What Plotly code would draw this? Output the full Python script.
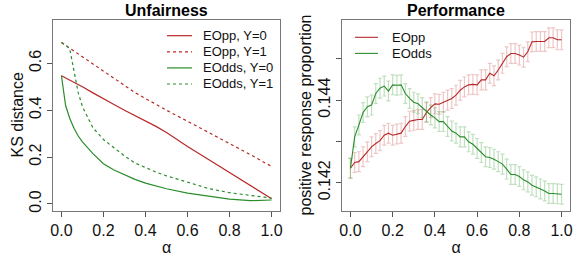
import plotly.graph_objects as go

# ---------------- data ----------------
alpha_ks = [0, 0.02, 0.04, 0.06, 0.08, 0.1, 0.15, 0.2, 0.25, 0.3, 0.35, 0.4,
            0.45, 0.5, 0.6, 0.7, 0.8, 0.9, 1.0]
eopp_y0 = [0.547, 0.538, 0.528, 0.519, 0.510, 0.500, 0.474, 0.448, 0.424, 0.400,
           0.378, 0.355, 0.331, 0.305, 0.245, 0.190, 0.133, 0.078, 0.022]
eopp_y1 = [0.689, 0.677, 0.665, 0.652, 0.640, 0.628, 0.597, 0.567, 0.536, 0.506,
           0.475, 0.449, 0.424, 0.400, 0.353, 0.306, 0.259, 0.210, 0.160]
eodds_y0 = [0.548, 0.420, 0.365, 0.323, 0.290, 0.265, 0.215, 0.172, 0.145, 0.125,
            0.105, 0.089, 0.076, 0.065, 0.046, 0.032, 0.021, 0.014, 0.017]
eodds_y1 = [0.689, 0.680, 0.660, 0.570, 0.475, 0.415, 0.325, 0.275, 0.238, 0.205,
            0.175, 0.155, 0.136, 0.120, 0.093, 0.066, 0.048, 0.035, 0.025]

alpha_perf = [0.00, 0.02, 0.04, 0.06, 0.08, 0.10, 0.12, 0.14, 0.16, 0.18,
              0.20, 0.22, 0.24, 0.26, 0.28, 0.30, 0.32, 0.34, 0.36, 0.38,
              0.40, 0.42, 0.44, 0.46, 0.48, 0.50, 0.52, 0.54, 0.56, 0.58,
              0.60, 0.62, 0.64, 0.66, 0.68, 0.70, 0.72, 0.74, 0.76, 0.78,
              0.80, 0.82, 0.84, 0.86, 0.88, 0.90, 0.92, 0.94, 0.96, 0.98, 1.00]
perf_eopp = [0.14235, 0.14249, 0.14251, 0.14263, 0.14275, 0.14287, 0.14295, 0.14302,
             0.14315, 0.14320, 0.14315, 0.14318, 0.14320, 0.14336, 0.14349, 0.14351,
             0.14353, 0.14353, 0.14370, 0.14382, 0.14391, 0.14390, 0.14395, 0.14400,
             0.14404, 0.14412, 0.14424, 0.14432, 0.14437, 0.14438, 0.14437, 0.14449,
             0.14449, 0.14465, 0.14459, 0.14473, 0.14489, 0.14505, 0.14513, 0.14513,
             0.14509, 0.14504, 0.14517, 0.14541, 0.14542, 0.14542, 0.14542, 0.14551,
             0.14551, 0.14546, 0.14546]
perf_eodds = [0.14235, 0.14311, 0.14340, 0.14370, 0.14384, 0.14388, 0.14416, 0.14429,
              0.14434, 0.14422, 0.14437, 0.14436, 0.14437, 0.14416, 0.14404, 0.14395,
              0.14391, 0.14382, 0.14372, 0.14364, 0.14357, 0.14348, 0.14348, 0.14336,
              0.14325, 0.14320, 0.14311, 0.14311, 0.14299, 0.14293, 0.14283, 0.14273,
              0.14263, 0.14261, 0.14257, 0.14251, 0.14245, 0.14233, 0.14220, 0.14220,
              0.14215, 0.14207, 0.14202, 0.14194, 0.14190, 0.14185, 0.14180, 0.14174,
              0.14174, 0.14173, 0.14172]
perf_err = 0.00024

x_ticks = [0.0, 0.2, 0.4, 0.6, 0.8, 1.0]
x_ticktext = ["0.0", "0.2", "0.4", "0.6", "0.8", "1.0"]
ks_ticks = [0.0, 0.2, 0.4, 0.6]
ks_ticktext = ["0.0", "0.2", "0.4", "0.6"]
perf_ticks = [0.142, 0.143, 0.144, 0.145]
perf_ticktext = ["0.142", "", "0.144", ""]

left_legend_names = ["EOpp, Y=0", "EOpp, Y=1", "EOdds, Y=0", "EOdds, Y=1"]
right_legend_names = ["EOpp", "EOdds"]

# ---------------- style ----------------
RED = "#B82828"
GREEN = "#2A8C2A"
RED_ERR = "rgba(205,92,92,0.35)"
GREEN_ERR = "rgba(60,160,60,0.32)"
FONT = "Liberation Sans, Arial, Helvetica, sans-serif"
W, H = 581, 264

def px_x(p):
    return p / W

def px_y(p):
    return 1 - p / H

fig = go.Figure()

left_styles = [(RED, "solid"), (RED, "3px,3px"), (GREEN, "solid"), (GREEN, "3px,3px")]
for name, ys, (col, dash) in zip(left_legend_names, [eopp_y0, eopp_y1, eodds_y0, eodds_y1], left_styles):
    fig.add_trace(go.Scatter(x=alpha_ks, y=ys, mode="lines", name=name,
                             line=dict(color=col, width=1.2, dash=dash), xaxis="x", yaxis="y"))

fig.add_trace(go.Scatter(x=alpha_perf, y=perf_eopp, mode="lines", name="EOpp",
                         line=dict(color=RED, width=1.1),
                         error_y=dict(type="constant", value=perf_err, color=RED_ERR, thickness=1.2, width=2),
                         xaxis="x2", yaxis="y2"))
fig.add_trace(go.Scatter(x=alpha_perf, y=perf_eodds, mode="lines", name="EOdds",
                         line=dict(color=GREEN, width=1.1),
                         error_y=dict(type="constant", value=perf_err, color=GREEN_ERR, thickness=1.2, width=2),
                         xaxis="x2", yaxis="y2"))

axis_common = dict(showline=True, mirror=True, linecolor="#777", linewidth=1,
                   ticks="outside", ticklen=5, tickcolor="#555", tickwidth=1,
                   showgrid=False, zeroline=False, automargin=False,
                   tickfont=dict(family=FONT, size=16, color="#111"))

# legend drawn as key lines + labels (R-style compact legend)
shapes = []
annotations = []
for i, (name, (col, dash)) in enumerate(zip(left_legend_names, left_styles)):
    yc = px_y(35.7 + 16.1 * i)
    shapes.append(dict(type="line", xref="paper", yref="paper", x0=px_x(167), x1=px_x(192),
                       y0=yc, y1=yc, line=dict(color=col, width=1.2, dash=dash)))
    annotations.append(dict(text=name, x=px_x(201), y=yc, xref="paper", yref="paper",
                            showarrow=False, xanchor="left", yanchor="middle",
                            font=dict(family=FONT, size=13, color="#111")))
for i, (name, col) in enumerate(zip(right_legend_names, [RED, GREEN])):
    yc = px_y(37.3 + 16.1 * i)
    shapes.append(dict(type="line", xref="paper", yref="paper", x0=px_x(355), x1=px_x(378),
                       y0=yc, y1=yc, line=dict(color=col, width=1.1)))
    annotations.append(dict(text=name, x=px_x(390), y=yc, xref="paper", yref="paper",
                            showarrow=False, xanchor="left", yanchor="middle",
                            font=dict(family=FONT, size=13, color="#111")))

plot_mid_y = px_y((20 + 211) / 2)
annotations += [
    dict(text="<b>Unfairness</b>", x=(px_x(53) + px_x(280)) / 2, y=px_y(11),
         xref="paper", yref="paper", showarrow=False, xanchor="center", yanchor="middle",
         font=dict(family=FONT, size=16, color="#000")),
    dict(text="<b>Performance</b>", x=(px_x(342) + px_x(570)) / 2, y=px_y(11),
         xref="paper", yref="paper", showarrow=False, xanchor="center", yanchor="middle",
         font=dict(family=FONT, size=16, color="#000")),
    dict(text="KS distance", x=px_x(17), y=plot_mid_y, xref="paper", yref="paper",
         showarrow=False, textangle=-90, xanchor="center", yanchor="middle",
         font=dict(family=FONT, size=16, color="#111")),
    dict(text="positive response proportion", x=px_x(305), y=plot_mid_y, xref="paper", yref="paper",
         showarrow=False, textangle=-90, xanchor="center", yanchor="middle",
         font=dict(family=FONT, size=16, color="#111")),
]

fig.update_layout(
    width=W, height=H,
    margin=dict(l=0, r=0, t=0, b=0),
    plot_bgcolor="white", paper_bgcolor="white",
    font=dict(family=FONT, color="#111"),
    showlegend=False,
    xaxis=dict(domain=[px_x(53), px_x(280)], range=[-0.04, 1.04], anchor="y",
               tickvals=x_ticks, ticktext=x_ticktext,
               title=dict(text="α", font=dict(family=FONT, size=16), standoff=3), **axis_common),
    yaxis=dict(domain=[1 - 211 / H, 1 - 20 / H], range=[-0.030, 0.785], anchor="x",
               tickvals=ks_ticks, ticktext=ks_ticktext, tickangle=-90, **axis_common),
    xaxis2=dict(domain=[px_x(342), px_x(570)], range=[-0.04, 1.04], anchor="y2",
                tickvals=x_ticks, ticktext=x_ticktext,
                title=dict(text="α", font=dict(family=FONT, size=16), standoff=3), **axis_common),
    yaxis2=dict(domain=[1 - 211 / H, 1 - 20 / H], range=[0.141315, 0.14594], anchor="x2",
                tickvals=perf_ticks, ticktext=perf_ticktext, tickangle=-90, **axis_common),
    shapes=shapes,
    annotations=annotations,
)

fig.write_html("out.html", config={"displayModeBar": False},
               post_script="document.body.style.margin='0';")
